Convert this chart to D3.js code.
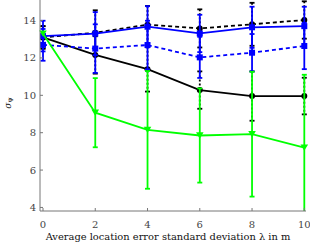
<!DOCTYPE html>
<html><head><meta charset="utf-8">
<script src="https://cdn.jsdelivr.net/npm/d3@7"></script>
<style>body{margin:0;background:#fff}svg{display:block}</style>
</head><body>
<script>
const xs = [0, 2, 4, 6, 8, 10];
const xTicks = [0, 2, 4, 6, 8, 10];
const yTicks = [4, 6, 8, 10, 12, 14];
const blackDashedMean = [13.1, 13.35, 13.78, 13.58, 13.8, 14.03];
const blackDashedErr  = [0.6, 1.2, 1.0, 1.02, 1.15, 1.0];
const blackSolidMean  = [13.1, 12.16, 11.4, 10.28, 9.96, 9.96];
const blackSolidErr   = [0.6, 1.0, 1.2, 1.0, 1.32, 0.98];
const blueDashedMean  = [12.7, 12.5, 12.69, 12.03, 12.28, 12.64];
const blueDashedErr   = [0.85, 1.3, 1.3, 1.1, 1.0, 1.24];
const blueSolidMean   = [13.17, 13.3, 13.67, 13.31, 13.64, 13.7];
const blueSolidErr    = [0.82, 1.15, 1.1, 1.0, 1.1, 1.04];
const greenMean       = [13.3, 9.07, 8.15, 7.85, 7.92, 7.2];
const greenErr        = [0.0, 1.85, 3.15, 2.52, 3.34, 3.9];

const W = 310, H = 243;
const svg = d3.select("body").append("svg").attr("width", W).attr("height", H);
const x = d3.scaleLinear().domain([-0.115, 10.065]).range([40, 306]);
const y = d3.scaleLinear().domain([3.81, 15.1]).range([211, 0]);

const series = [
  {m: blackSolidMean, e: blackSolidErr, c: "#000", dash: null, ebDash: "2,2", mk: "circle"},
  {m: blackDashedMean, e: blackDashedErr, c: "#000", dash: "4,3", ebDash: "2,2", mk: "circle"},
  {m: blueDashedMean, e: blueDashedErr, c: "#0000ff", dash: "4,3", ebDash: null, mk: "square"},
  {m: blueSolidMean, e: blueSolidErr, c: "#0000ff", dash: null, ebDash: null, mk: "square"},
  {m: greenMean, e: greenErr, c: "#00ff00", dash: null, ebDash: null, mk: "tri"}
];

svg.append("clipPath").attr("id","clp").append("rect")
  .attr("x", 0).attr("y", 0).attr("width", W).attr("height", 211);
const g = svg.append("g").attr("clip-path","url(#clp)");

series.forEach(s => {
  const pts = xs.map((v,i) => ({x: v, m: s.m[i], e: s.e[i]}));
  const eb = g.append("g");
  pts.forEach(p => {
    if (p.e <= 0) return;
    eb.append("line").attr("x1", x(p.x)).attr("x2", x(p.x))
      .attr("y1", y(p.m + p.e)).attr("y2", y(p.m - p.e))
      .attr("stroke", s.c).attr("stroke-width", 1.8)
      .attr("stroke-dasharray", s.ebDash);
    [p.m + p.e, p.m - p.e].forEach(v => {
      eb.append("line").attr("x1", x(p.x) - 2.5).attr("x2", x(p.x) + 2.5)
        .attr("y1", y(v)).attr("y2", y(v))
        .attr("stroke", s.c).attr("stroke-width", 1.8);
    });
  });
  g.append("path").datum(pts)
    .attr("d", d3.line().x(d => x(d.x)).y(d => y(d.m)))
    .attr("fill", "none").attr("stroke", s.c).attr("stroke-width", 1.8)
    .attr("stroke-dasharray", s.dash);
  pts.forEach(p => {
    const cx = x(p.x), cy = y(p.m);
    if (s.mk === "circle") {
      g.append("circle").attr("cx", cx).attr("cy", cy).attr("r", 3).attr("fill", s.c);
    } else if (s.mk === "square") {
      g.append("rect").attr("x", cx - 3).attr("y", cy - 3).attr("width", 6).attr("height", 6).attr("fill", s.c);
    } else {
      g.append("path").attr("d", `M${cx-3.8},${cy-3.2} L${cx+3.8},${cy-3.2} L${cx},${cy+3.2} Z`).attr("fill", s.c);
    }
  });
});

const axCol = "#777";
svg.append("line").attr("x1", 40).attr("x2", 40).attr("y1", 0).attr("y2", 211).attr("stroke", axCol).attr("stroke-width", 1);
svg.append("line").attr("x1", 40).attr("x2", 306).attr("y1", 211).attr("y2", 211).attr("stroke", axCol).attr("stroke-width", 1);
xTicks.forEach(t => {
  svg.append("line").attr("x1", x(t)).attr("x2", x(t)).attr("y1", 211).attr("y2", 208).attr("stroke", axCol);
  svg.append("text").attr("x", x(t)).attr("y", 228).attr("text-anchor", "middle")
    .attr("font-family", "DejaVu Serif, serif").attr("font-size", 10).attr("fill", "#444").text(t);
});
yTicks.forEach(t => {
  svg.append("line").attr("x1", 40).attr("x2", 43).attr("y1", y(t)).attr("y2", y(t)).attr("stroke", axCol);
  svg.append("text").attr("x", 36).attr("y", y(t) + 3.5).attr("text-anchor", "end")
    .attr("font-family", "DejaVu Serif, serif").attr("font-size", 10).attr("fill", "#444").text(t);
});
svg.append("text").attr("x", 168).attr("y", 240).attr("text-anchor", "middle")
  .attr("font-family", "DejaVu Serif, serif").attr("font-size", 9.9).attr("fill", "#111")
  .text("Average location error standard deviation λ in m");
const yl = svg.append("text").attr("transform", "translate(11,103) rotate(-90)").attr("text-anchor", "middle")
  .attr("font-family", "DejaVu Serif, serif").attr("font-size", 9).attr("fill", "#111");
yl.append("tspan").attr("font-style", "italic").text("σ");
yl.append("tspan").attr("font-size", 6).attr("dy", 2).text("Ψ");
</script>
</body></html>
